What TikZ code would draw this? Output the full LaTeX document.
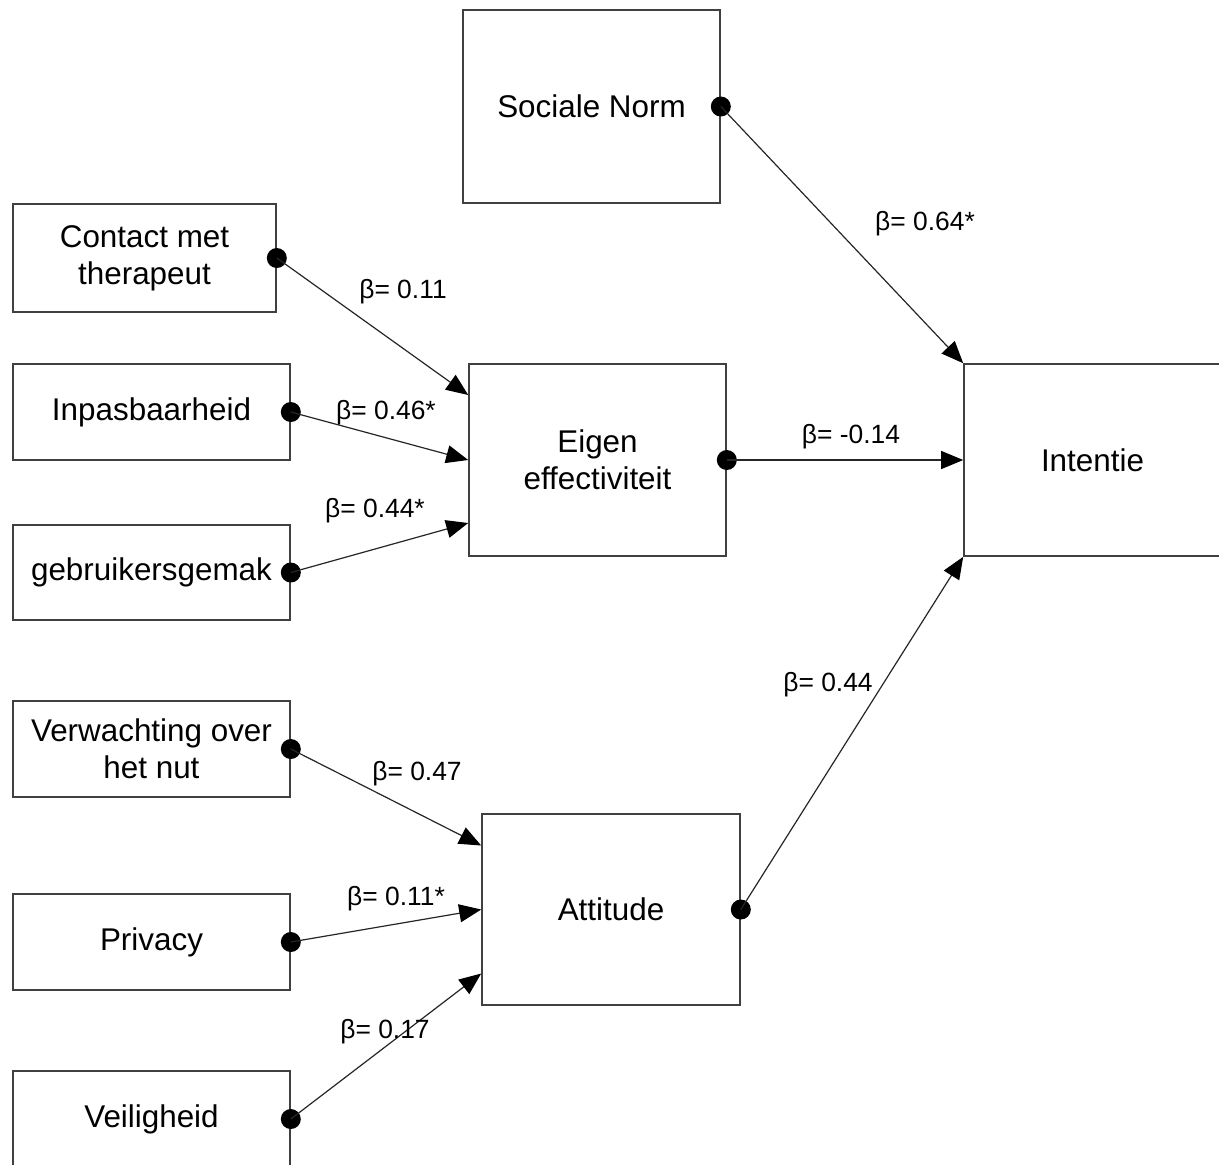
\documentclass[tikz,border=0pt]{standalone}
\usepackage{fontspec}
\setmainfont{Liberation Sans}
\usetikzlibrary{arrows.meta}
\begin{document}
\begin{tikzpicture}[x=0.5pt,y=-0.5pt,
 box/.style={draw=black!75, line width=0.8pt, align=center, inner sep=0pt, font=\fontsize{15.7}{18.5}\selectfont},
 lbl/.style={inner sep=0pt, font=\fontsize{13.2}{15}\selectfont},
 conn/.style={draw=black!85, line width=0.6pt, -{Triangle[length=11pt,width=9pt,fill=black,color=black]}},
 dot/.style={circle, fill=black, minimum size=10pt, inner sep=0pt}]
\clip (0,0) rectangle (1219,1164);
\fill[white] (0,0) rectangle (1219,1164);

% boxes
\node[box, minimum width=128.5pt, minimum height=96.5pt] (sn) at (591.5,106.5) {Sociale Norm};
\node[box, minimum width=131.5pt, minimum height=54pt] (ct) at (144.5,258) {Contact met\\therapeut};
\node[box, minimum width=138.5pt, minimum height=48pt] (inp) at (151.5,412) {Inpasbaarheid};
\node[box, minimum width=138.5pt, minimum height=47.5pt] (geb) at (151.5,572.5) {gebruikersgemak};
\node[box, minimum width=128.5pt, minimum height=96pt] (eig) at (597.5,460) {Eigen\\effectiviteit};
\node[box, minimum width=128.5pt, minimum height=96pt] (int) at (1092.5,460) {Intentie};
\node[box, minimum width=138.5pt, minimum height=48pt] (ver) at (151.5,749) {Verwachting over\\het nut};
\node[box, minimum width=138.5pt, minimum height=48pt] (pri) at (151.5,942) {Privacy};
\node[box, minimum width=138.5pt, minimum height=48pt] (vei) at (151.5,1119) {Veiligheid};
\node[box, minimum width=129pt, minimum height=95.5pt] (att) at (611,909.5) {Attitude};

% dots
\node[dot] (snd) at (sn.east) {};
\node[dot] (ctd) at (ct.east) {};
\node[dot] (inpd) at (inp.east) {};
\node[dot] (gebd) at (geb.east) {};
\node[dot] (eigd) at (eig.east) {};
\node[dot] (verd) at (ver.east) {};
\node[dot] (prid) at (pri.east) {};
\node[dot] (veid) at (vei.east) {};
\node[dot] (attd) at (att.east) {};

% connectors
\draw[conn] (snd.center) -- (int.north west);
\draw[conn] (ctd.center) -- ([yshift=32.5pt]eig.west);
\draw[conn] (inpd.center) -- (eig.west);
\draw[conn] (gebd.center) -- ([yshift=-31.5pt]eig.west);
\draw[conn] (eigd.center) -- (int.west);
\draw[conn] (attd.center) -- (int.south west);
\draw[conn] (verd.center) -- ([yshift=32pt]att.west);
\draw[conn] (prid.center) -- (att.west);
\draw[conn] (veid.center) -- ([yshift=-32pt]att.west);

% labels
\node[lbl] (l1) at (925,224) {β= 0.64*};
\node[lbl] (l2) at (403,292) {β= 0.11};
\node[lbl] (l3) at (386,413) {β= 0.46*};
\node[lbl] (l4) at (375,511) {β= 0.44*};
\node[lbl] (l5) at (851,437) {β= -0.14};
\node[lbl] (l6) at (828,685) {β= 0.44};
\node[lbl] (l7) at (417,774) {β= 0.47};
\node[lbl] (l8) at (396,899) {β= 0.11*};
\node[lbl] (l9) at (385,1032) {β= 0.17};
\end{tikzpicture}
\end{document}
